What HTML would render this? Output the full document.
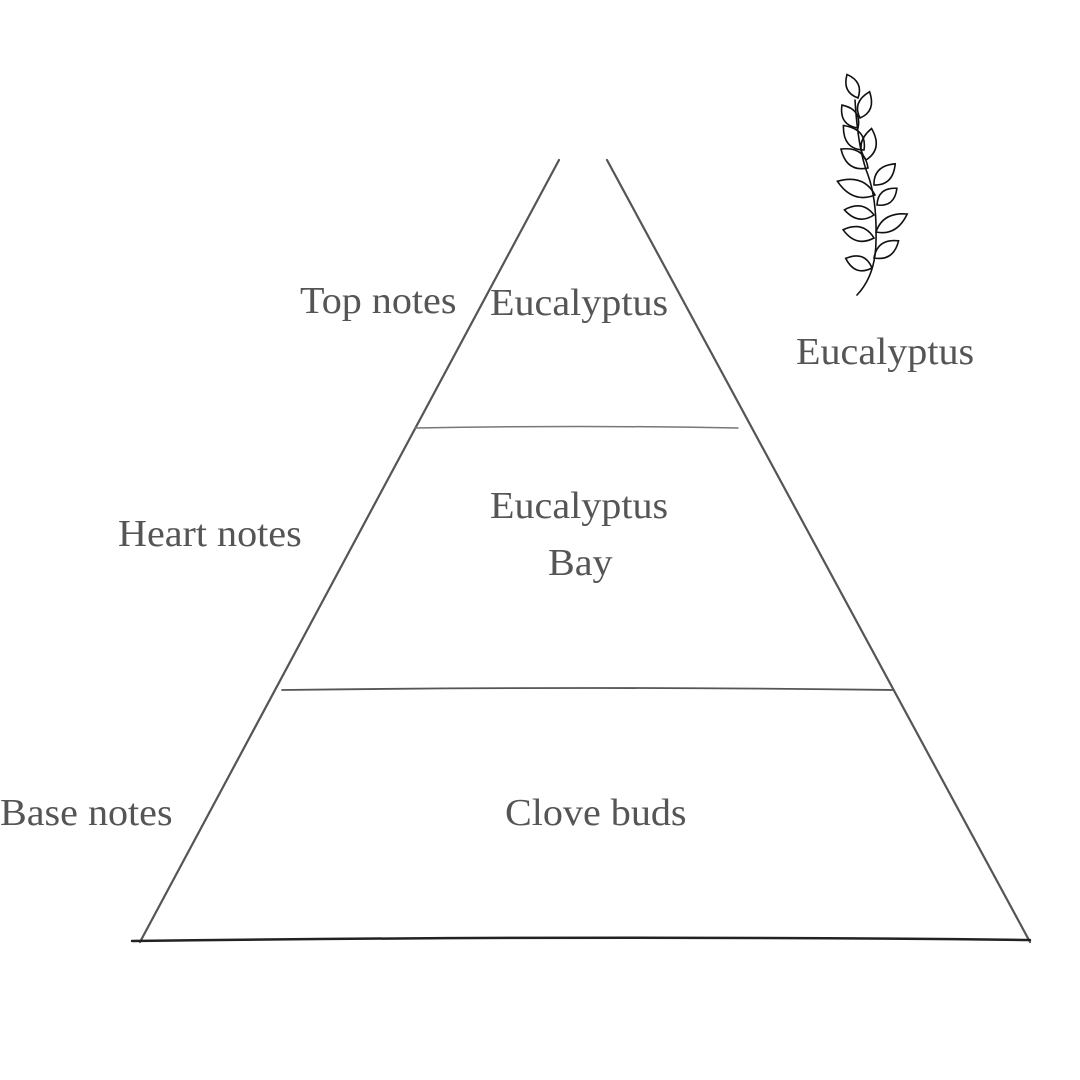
<!DOCTYPE html>
<html><head><style>
body{margin:0;width:1080px;height:1080px;background:#fff;overflow:hidden;position:relative}
.t{position:absolute;font-family:"Liberation Serif",serif;font-size:38px;color:#555;white-space:nowrap;line-height:1;transform:scaleX(1.055);transform-origin:left top}
</style></head><body>
<svg width="1080" height="1080" style="position:absolute;left:0;top:0">
<g stroke="#555" stroke-width="2.2" fill="none" stroke-linecap="round">
<path d="M559 160 L140 942"/>
<path d="M607 160 L1030 942"/>
<path d="M132 941 Q600 935 1030 940" stroke="#222" stroke-width="2.5"/>
<path d="M415 428 Q580 425 738 428" stroke-width="1.5" stroke="#777"/>
<path d="M282 690 Q600 686 893 690" stroke-width="1.8"/>
</g>
<g stroke="#111" stroke-width="1.6" fill="none" stroke-linecap="round">
<path d="M857 295 Q876 275 876 240 Q877 200 868 175 Q858 150 855 100"/>
<g>
<path transform="translate(872,268) rotate(200)" d="M0 0 Q13 -14 28 0 Q13 14 0 0Z"/>
<path transform="translate(874,238) rotate(195)" d="M0 0 Q15 -14 32 0 Q15 14 0 0Z"/>
<path transform="translate(874,215) rotate(190)" d="M0 0 Q14 -13 30 0 Q14 13 0 0Z"/>
<path transform="translate(875,195) rotate(200)" d="M0 0 Q18 -16 40 0 Q18 16 0 0Z"/>
<path transform="translate(868,168) rotate(215)" d="M0 0 Q15 -16 33 0 Q15 16 0 0Z"/>
<path transform="translate(864,150) rotate(230)" d="M0 0 Q14 -16 32 0 Q14 16 0 0Z"/>
<path transform="translate(858,128) rotate(235)" d="M0 0 Q13 -14 28 0 Q13 14 0 0Z"/>
<path transform="translate(858,98) rotate(245)" d="M0 0 Q12 -12 26 0 Q12 12 0 0Z"/>
<path transform="translate(874,258) rotate(-35)" d="M0 0 Q14 -14 30 0 Q14 14 0 0Z"/>
<path transform="translate(876,232) rotate(-30)" d="M0 0 Q16 -14 36 0 Q16 14 0 0Z"/>
<path transform="translate(877,205) rotate(-40)" d="M0 0 Q12 -13 26 0 Q12 13 0 0Z"/>
<path transform="translate(874,185) rotate(-45)" d="M0 0 Q13 -14 30 0 Q13 14 0 0Z"/>
<path transform="translate(866,160) rotate(-80)" d="M0 0 Q14 -15 32 0 Q14 15 0 0Z"/>
<path transform="translate(860,118) rotate(-70)" d="M0 0 Q12 -13 28 0 Q12 13 0 0Z"/>
</g>
</g>
</svg>
<div class="t" style="left:300px;top:282px">Top notes</div>
<div class="t" style="left:490px;top:284px">Eucalyptus</div>
<div class="t" style="left:796px;top:333px">Eucalyptus</div>
<div class="t" style="left:118px;top:515px">Heart notes</div>
<div class="t" style="left:490px;top:487px">Eucalyptus</div>
<div class="t" style="left:548px;top:544px">Bay</div>
<div class="t" style="left:0px;top:794px">Base notes</div>
<div class="t" style="left:505px;top:794px">Clove buds</div>
</body></html>
